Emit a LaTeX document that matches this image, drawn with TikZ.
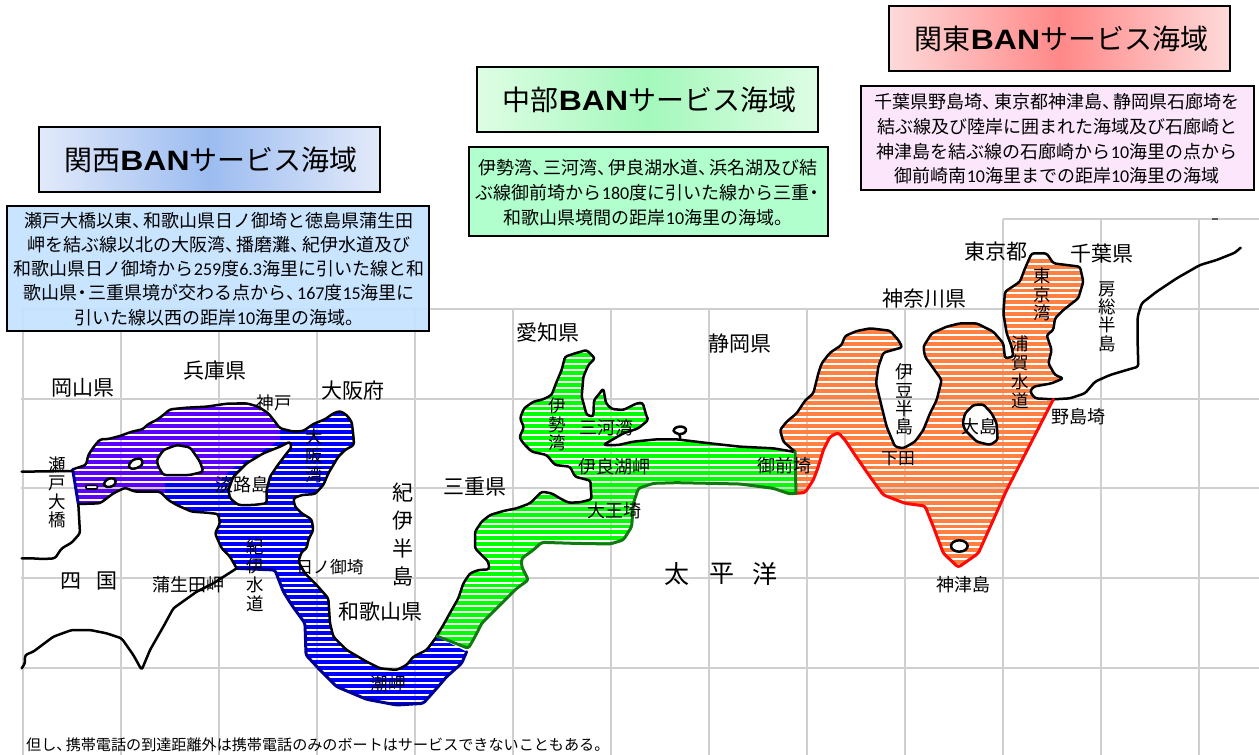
\documentclass[tikz,border=0pt]{standalone}
\usepackage{fontspec}
\usepackage{graphicx}
\setmainfont{Noto Sans CJK JP}
\newfontfamily\latinb{Liberation Sans Bold}
\newfontfamily\digitf{Carlito}
\newcommand\dg[1]{{\digitf #1}}
\newcommand\ten{\makebox[.62em][l]{、}}
\newcommand\banw{{\latinb\scalebox{1.14}[1]{BAN}}}
\definecolor{gridc}{HTML}{CFCFCF}
\definecolor{bluei}{HTML}{0000FF}
\definecolor{purpi}{HTML}{5C00FF}
\definecolor{greeni}{HTML}{00FF00}
\definecolor{orangei}{HTML}{FF8040}
\definecolor{darkb}{HTML}{000090}
\definecolor{darkg}{HTML}{107A10}
\definecolor{redl}{HTML}{FF0808}
\tikzset{
  coast/.style={draw=black,line width=2.5pt,line join=round,line cap=round,rounded corners=2.5pt},
  bordb/.style={draw=darkb,line width=3pt,line join=round,line cap=round,rounded corners=2.5pt},
  bordg/.style={draw=darkg,line width=3pt,line join=round,line cap=round,rounded corners=2.5pt},
  bordr/.style={draw=redl,line width=3pt,line join=round,line cap=round,rounded corners=2.5pt},
  isle/.style={coast,fill=white},
  titlebox/.style={draw=black,line width=2pt,inner sep=0pt,minimum width=341pt,minimum height=65pt},
  descbox/.style={draw=black,line width=2pt,fill opacity=.92},
  lab/.style={inner sep=0pt,align=center,text=black},
}
\newcommand\stripes[3]{\begin{scope}[reset cm]
  \foreach \k in {0,...,85}{\fill[#1] (#2,{259+\k*5.9}) rectangle (#3,{259+\k*5.9+3.9});}
\end{scope}}
\newcommand\lab[5]{\node[lab,font={\fontsize{#4}{#4}\selectfont}] (#1) at (#2,#3) {#5};}
\newcommand\vlab[6]{\node[lab,font={\fontsize{#4}{#5}\selectfont}] (#1) at (#2,#3) {#6};}
% Kansai, in the coordinates of crop 1 (offset 0,360, scale 1/3)
\def\KN{(218,328)--(258,315)--(265,285)--(280,262)--(300,238)--(325,237)--(360,228)--(395,215)--(428,208)--(445,192)--(470,180)--(490,165)--(510,148)--(560,143)--(620,140)--(680,131)--(740,130)--(775,140)--(805,160)--(825,185)--(840,205)--(880,215)--(910,213)--(940,192)--(975,178)--(1000,160)--(1020,153)--(1040,165)--(1055,185)--(1060,225)--(1062,255)--(1035,270)--(1015,290)--(1000,315)--(985,340)--(970,375)--(945,402)--(905,405)--(880,415)--(885,440)--(905,460)--(935,478)--(940,510)--(925,540)--(920,565)--(905,575)--(895,605)--(915,640)--(950,675)--(985,715)--(990,790)--(1000,830)--(1040,870)--(1100,905)--(1140,925)--(1190,930)--(1220,915)--(1240,890)--(1280,870)--(1310,830)}
\def\KS{(1400,875)--(1385,910)--(1340,950)--(1310,985)--(1270,1030)--(1190,1035)--(1100,1018)--(1010,980)--(960,930)--(918,885)--(915,790)--(875,735)--(850,695)--(825,630)}
\def\KW{(710,625)--(690,590)--(665,565)--(645,520)--(660,490)--(655,462)--(620,458)--(575,455)--(530,435)--(505,420)--(480,395)--(440,395)--(405,395)--(375,383)--(340,400)--(300,430)--(235,432)}
% Chubu, crop 2 (offset 420,340)
\def\CN{(50,888)--(70,855)--(95,810)--(115,775)--(130,730)--(150,700)--(175,690)--(208,688)--(205,665)--(185,645)--(165,625)--(165,575)--(185,545)--(210,525)--(250,513)--(290,505)--(330,490)--(350,470)--(365,455)--(395,460)--(420,475)--(445,488)--(480,487)--(515,478)--(512,440)--(512,422)--(465,410)--(450,380)--(405,375)--(380,345)--(335,335)--(310,310)--(298,292)--(312,262)--(300,235)--(312,205)--(340,185)--(370,178)--(395,165)--(410,125)--(425,90)--(435,50)--(465,40)--(500,30)--(525,55)--(505,75)--(490,110)--(485,170)--(500,225)--(520,230)--(522,180)--(535,165)--(550,145)--(558,190)--(575,207)--(610,210)--(650,190)--(668,188)--(680,230)--(685,240)--(655,265)--(610,280)--(575,300)--(550,315)--(595,315)--(640,305)--(710,298)--(770,298)--(870,310)--(960,320)--(1060,325)--(1120,335)}
\def\CS{(1127,460)--(1110,462)--(1060,445)--(960,432)--(870,430)--(770,428)--(700,430)--(655,445)--(640,490)--(635,560)--(610,600)--(570,612)--(460,610)--(365,607)--(340,630)--(305,655)--(305,680)--(325,720)--(290,745)--(245,790)--(185,850)--(165,890)--(145,925)}
% Kanto, crop 3 (offset 770,210)
\def\TN{(75,725)--(40,695)--(30,660)--(50,635)--(80,610)--(105,572)--(130,550)--(145,490)--(155,460)--(180,428)--(215,405)--(225,378)--(260,363)--(300,355)--(360,362)--(385,390)--(397,412)--(340,428)--(325,470)--(318,520)--(335,590)--(350,650)--(375,710)--(400,715)--(435,695)--(460,660)--(480,610)--(500,570)--(515,510)--(490,475)--(465,440)--(460,410)--(485,370)--(530,350)--(570,340)--(620,340)--(670,365)--(700,400)--(705,445)--(730,440)--(725,410)--(710,370)--(700,310)--(705,245)--(750,215)--(765,175)--(785,130)--(830,130)--(850,160)--(930,170)--(940,215)--(925,265)--(880,300)--(855,325)--(850,360)--(830,375)--(845,420)--(835,460)--(855,495)--(880,505)--(845,520)--(790,530)--(780,545)--(795,565)--(850,568)}
\def\TS{(850,568)--(710,840)--(625,1030)--(565,1072)--(520,1030)--(490,950)--(465,888)--(405,880)--(340,855)--(300,800)--(255,735)--(225,690)--(205,668)--(180,680)--(160,720)--(145,770)--(130,810)--(105,848)--(78,850)}
\begin{document}
\begin{tikzpicture}[x=1pt,y=-1pt]
\useasboundingbox (0,0) rectangle (1259,755);
\fill[white] (0,0) rectangle (1259,755);
% grid
\foreach \gy in {309,399,488,578,668}{\draw[gridc,line width=1.1pt] (21,\gy)--(1259,\gy);}
\foreach \gx in {23,121,219,317,415,513,611,709,807,905}{\draw[gridc,line width=1.1pt] (\gx,309)--(\gx,755);}
\foreach \gx in {1003,1101,1199}{\draw[gridc,line width=1.1pt] (\gx,219)--(\gx,755);}
\draw[gridc,line width=1.1pt] (1003,219)--(1259,219);
\fill[black!65] (1212,218) rectangle (1218,220);
% Kansai waters
\begin{scope}[shift={(0,360)},scale=1/3]
  \begin{scope}
    \clip \KN -- \KS -- \KW -- cycle;
    \stripes{bluei}{0}{520}
    \clip (0,120)--(840,120)--(840,240)--(690,330)--(660,366)--(495,366)--(495,450)--(0,450)--cycle;
    \stripes{purpi}{0}{520}
  \end{scope}
  \draw[coast] \KN;
  \draw[coast] \KW;
  \draw[bordb] \KS -- (710,625);
  \draw[bordb] (235,432)--(218,328);
  \draw[coast] (710,625)--(640,670)--(590,695)--(520,745)--(490,800)--(450,870)--(425,930)--(400,885)--(365,835)--(320,820)--(270,810)--(215,810)--(160,830)--(100,875)--(75,885)--(75,910)--(65,925);
  \draw[coast] (235,432)--(240,520)--(215,548)--(185,565)--(165,595)--(130,597)--(95,595)--(65,595);
  \draw[coast] (65,335)--(218,333);
  \draw[isle] (870,245)--(840,260)--(790,280)--(740,310)--(700,350)--(685,390)--(690,415)--(715,435)--(760,435)--(800,430)--(800,390)--(810,350)--(830,320)--(860,280)--(875,262)--cycle;
  \draw[isle] (470,300)--(490,270)--(530,255)--(570,262)--(590,290)--(600,305)--(610,335)--(570,345)--(490,345)--(475,320)--cycle;
  \draw[isle] (385,315)--(400,298)--(425,295)--(428,315)--(410,325)--(390,327)--cycle;
  \draw[isle] (310,370)--(325,355)--(345,355)--(348,372)--(330,382)--(315,380)--cycle;
  \draw[isle,line width=1.6pt,rounded corners=1pt] (258,376) rectangle (292,387);
\end{scope}
% Chubu waters
\begin{scope}[shift={(420,340)},scale=1/3]
  \begin{scope}
    \clip \CN -- \CS -- cycle;
    \stripes{greeni}{420}{810}
  \end{scope}
  \draw[coast] \CN;
  \draw[coast] (780,298)--(780,282)--(762,278)--(760,266)--(780,258)--(800,265)--(795,280)--(780,282);
  \draw[bordg] \CS -- (50,888);
\end{scope}
% Kanto waters
\begin{scope}[shift={(770,210)},scale=1/3]
  \begin{scope}
    \clip \TN -- \TS -- cycle;
    \stripes{orangei}{770}{1130}
  \end{scope}
  \draw[coast] \TN;
  \draw[coast] (850,568)--(900,565)--(945,550)--(975,515)--(1020,495)--(1070,480)--(1105,470)--(1103,400)--(1103,320)--(1115,280)--(1160,245)--(1220,205)--(1290,165)--(1340,150)--(1395,128)--(1412,113);
  \draw[bordr] \TS;
  \draw[bordg] (78,850)--(75,725);
  \draw[isle] (585,610)--(610,585)--(640,583)--(665,610)--(680,640)--(683,690)--(660,705)--(620,695)--(585,660)--(578,640)--cycle;
  \draw[isle] (568,1008) ellipse [x radius=25,y radius=17];
\end{scope}
% boxes
\node[titlebox,left color={rgb,255:red,226;green,234;blue,250},right color={rgb,255:red,226;green,234;blue,250},middle color={rgb,255:red,156;green,188;blue,240}] (tKansai) at (209,159.5) {\hspace*{4pt}\fontsize{28}{29}\selectfont 関西\banw サービス海域};
\node[titlebox,left color={rgb,255:red,222;green,253;blue,228},right color={rgb,255:red,222;green,253;blue,228},middle color={rgb,255:red,164;green,248;blue,188}] (tChubu) at (647.5,99.5) {\hspace*{4pt}\fontsize{28}{29}\selectfont 中部\banw サービス海域};
\node[titlebox,left color={rgb,255:red,254;green,218;blue,218},right color={rgb,255:red,254;green,218;blue,218},middle color={rgb,255:red,255;green,136;blue,136}] (tKanto) at (1059.5,38.5) {\hspace*{4pt}\fontsize{28}{29}\selectfont 関東\banw サービス海域};
\path[descbox,fill={rgb,255:red,196;green,226;blue,255}] (7,206) rectangle (429,331);
\path[descbox,fill={rgb,255:red,170;green,255;blue,200}] (469,147) rectangle (828,236);
\path[descbox,fill={rgb,255:red,252;green,228;blue,252}] (861,86) rectangle (1254,190);
% descriptions
\lab{d1a}{219}{221}{18}{瀬戸大橋以東\ten 和歌山県日ノ御埼と徳島県蒲生田}
\lab{d1b}{219}{245}{18}{岬を結ぶ線以北の大阪湾\ten 播磨灘\ten 紀伊水道及び}
\lab{d1c}{219}{269}{18}{和歌山県日ノ御埼から\dg{259}度\dg{6.3}海里に引いた線と和}
\lab{d1d}{219}{293}{18}{歌山県\makebox[.6em]{・}三重県境が交わる点から\ten \dg{167}度\dg{15}海里に}
\lab{d1e}{219}{318}{18}{引いた線以西の距岸\dg{10}海里の海域。}
\lab{d2a}{648}{168}{18}{伊勢湾\ten 三河湾\ten 伊良湖水道\ten 浜名湖及び結}
\lab{d2b}{648}{193}{18}{ぶ線御前埼から\dg{180}度に引いた線から三重\makebox[.6em]{・}}
\lab{d2c}{648}{218}{18}{和歌山県境間の距岸\dg{10}海里の海域。}
\lab{d3a}{1057}{102}{18}{千葉県野島埼\ten 東京都神津島\ten 静岡県石廊埼を}
\lab{d3b}{1057}{127}{18}{結ぶ線及び陸岸に囲まれた海域及び石廊崎と}
\lab{d3c}{1057}{152}{18}{神津島を結ぶ線の石廊崎から\dg{10}海里の点から}
\lab{d3d}{1057}{176}{18}{御前崎南\dg{10}海里までの距岸\dg{10}海里の海域}
% place names
\lab{okayama}{83}{388}{21}{岡山県}
\lab{hyogo}{215}{371}{21}{兵庫県}
\lab{kobe}{274}{403}{17.5}{神戸}
\lab{osakafu}{353}{391}{21}{大阪府}
\vlab{seto}{57}{492.5}{17.5}{18.4}{瀬\\戸\\大\\橋}
\vlab{osakawan}{314}{456}{17.5}{19}{大\\阪\\湾}
\lab{awaji}{242}{485}{18}{淡路島}
\vlab{kiihanto}{403}{534.5}{21}{28.3}{紀\\伊\\半\\島}
\lab{mie}{475}{487}{21}{三重県}
\vlab{kiisuido}{255}{575.5}{17.5}{19}{紀\\伊\\水\\道}
\lab{hinomisaki}{330}{567}{16.8}{日ノ御埼}
\lab{shi}{71}{581}{21}{四}
\lab{koku}{107}{581}{21}{国}
\lab{gamoda}{188}{585}{18}{蒲生田岬}
\lab{wakayama}{380}{612}{21}{和歌山県}
\lab{shiono}{388}{684}{17.5}{潮岬}
\lab{aichi}{548}{333}{21}{愛知県}
\lab{shizuoka}{740}{344}{21}{静岡県}
\vlab{isewan}{557}{424.5}{17.5}{18.5}{伊\\勢\\湾}
\lab{mikawa}{606}{428}{18}{三河湾}
\lab{irago}{614}{467}{18}{伊良湖岬}
\lab{daio}{614}{511}{18}{大王埼}
\lab{omae}{784}{466}{18}{御前埼}
\lab{ta}{677}{574}{25}{太}
\lab{hei}{722}{574}{25}{平}
\lab{yo}{765}{574}{25}{洋}
\lab{kanagawa}{924}{299}{21}{神奈川県}
\lab{tokyo}{996}{252}{21}{東京都}
\lab{chiba}{1102}{254}{21}{千葉県}
\vlab{tokyowan}{1042}{294.5}{17.5}{18.5}{東\\京\\湾}
\vlab{boso}{1107}{316.5}{17.5}{18.4}{房\\総\\半\\島}
\vlab{izu}{904}{399.5}{18}{18.4}{伊\\豆\\半\\島}
\vlab{uraga}{1020}{372.5}{17.5}{19}{浦\\賀\\水\\道}
\lab{nojima}{1078}{417}{18}{野島埼}
\lab{oshima}{979}{427}{18}{大島}
\lab{shimoda}{898}{459}{16.8}{下田}
\lab{kozu}{963}{585}{18}{神津島}
\node[lab,anchor=west,font={\fontsize{15.1}{15.1}\selectfont}] (note) at (26,745) {但し\ten 携帯電話の到達距離外は携帯電話のみのボートはサービスできないこともある。};
\end{tikzpicture}
\end{document}
